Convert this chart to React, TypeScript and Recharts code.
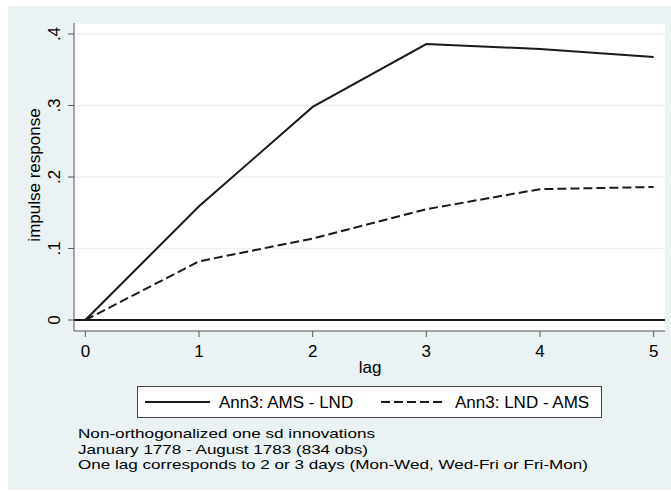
import { LineChart, Line, XAxis, YAxis, CartesianGrid, ReferenceLine, Legend, Customized } from 'recharts';

const LAGS = [0, 1, 2, 3, 4, 5];
const AMS_LND = [0, 0.159, 0.298, 0.386, 0.379, 0.368];
const LND_AMS = [0, 0.082, 0.114, 0.155, 0.183, 0.186];
const Y_TICKS = [0, 0.1, 0.2, 0.3, 0.4];
const SERIES_NAMES = ['Ann3: AMS - LND', 'Ann3: LND - AMS'];
const NOTES = [
    'Non-orthogonalized one sd innovations',
    'January 1778 - August 1783 (834 obs)',
    'One lag corresponds to 2 or 3 days (Mon-Wed, Wed-Fri or Fri-Mon)',
];

const FONT = '"Liberation Sans", Arial, sans-serif';
const BG = '#eaf2f3';
const INK = '#1a1a1a';
const AXIS = '#555';

const data = LAGS.map((lag, i) => ({ lag, a: AMS_LND[i], b: LND_AMS[i] }));

const fmtY = (v: number) => (v === 0 ? '0' : '.' + Math.round(v * 10));

const YTick = ({ x, y, payload }: any) => (
    <text x={x} y={y} transform={`rotate(-90, ${x}, ${y})`} textAnchor="middle" fontSize={17} fontFamily={FONT} fill="#000">
        {fmtY(payload.value)}
    </text>
);

const renderLegend = ({ payload }: any) => {
    const itemX = [7, 243];
    return (
        <div style={{ width: 465, height: 32, boxSizing: 'border-box', border: '1px solid #444', background: '#fff' }}>
            <svg width={463} height={30} style={{ display: 'block' }}>
                {(payload || []).map((p: any, i: number) => (
                    <g key={i}>
                        <line x1={itemX[i]} x2={itemX[i] + 65} y1={15} y2={15} stroke={INK} strokeWidth={2}
                            strokeDasharray={i === 1 ? '9 4' : undefined} />
                        <text x={itemX[i] + 74} y={21} fontSize={17} fontFamily={FONT} fill="#000">{p.value}</text>
                    </g>
                ))}
            </svg>
        </div>
    );
};

// note widths as measured on the original (text is a bit wider than its height suggests)
const NOTE_WIDTHS = [297, 290, 510];

const Extras = () => (
    <g fontFamily={FONT} fill="#000">
        <text x={40} y={175} transform="rotate(-90, 40, 175)" textAnchor="middle" fontSize={17}>impulse response</text>
        <text x={370} y={373} textAnchor="middle" fontSize={17}>lag</text>
        {NOTES.map((t, i) => (
            <text key={i} x={78} y={438 + i * 15.5} fontSize={13.5}
                textLength={NOTE_WIDTHS[i]} lengthAdjust="spacingAndGlyphs">{t}</text>
        ))}
    </g>
);

export default function App() {
    return (
        <div style={{ position: 'absolute', left: 0, top: 0, width: 671, height: 494, background: '#fff' }}>
            <div style={{ position: 'absolute', left: 8, top: 6, width: 663, height: 484, background: BG }} />
            <div style={{ position: 'absolute', left: 0, top: 0 }}>
                <LineChart width={671} height={494} data={data} margin={{ top: 23, right: 6, bottom: 133, left: 34 }}>
                    <CartesianGrid vertical={false} stroke={BG} strokeWidth={1.5} fill="#fff" />
                    <XAxis dataKey="lag" type="number" domain={[-0.1, 5.1]} ticks={LAGS} allowDataOverflow height={30}
                        tickSize={6} tickMargin={8} stroke={AXIS} tick={{ fontSize: 17, fontFamily: FONT, fill: '#000' }} />
                    <YAxis type="number" domain={[-0.0154, 0.4154]} ticks={Y_TICKS} allowDataOverflow width={40}
                        tickSize={6} tickMargin={8} stroke={AXIS} tick={<YTick />} />
                    <ReferenceLine y={0} stroke={INK} strokeWidth={2} />
                    <Line dataKey="a" name={SERIES_NAMES[0]} stroke={INK} strokeWidth={2} dot={false} isAnimationActive={false} />
                    <Line dataKey="b" name={SERIES_NAMES[1]} stroke={INK} strokeWidth={2} strokeDasharray="9 4" dot={false} isAnimationActive={false} />
                    <Legend layout="horizontal" verticalAlign="middle" align="center" content={renderLegend}
                        wrapperStyle={{ left: 137, top: 386, width: 465, height: 32 }} />
                    <Customized component={<Extras />} />
                </LineChart>
            </div>
        </div>
    );
}
